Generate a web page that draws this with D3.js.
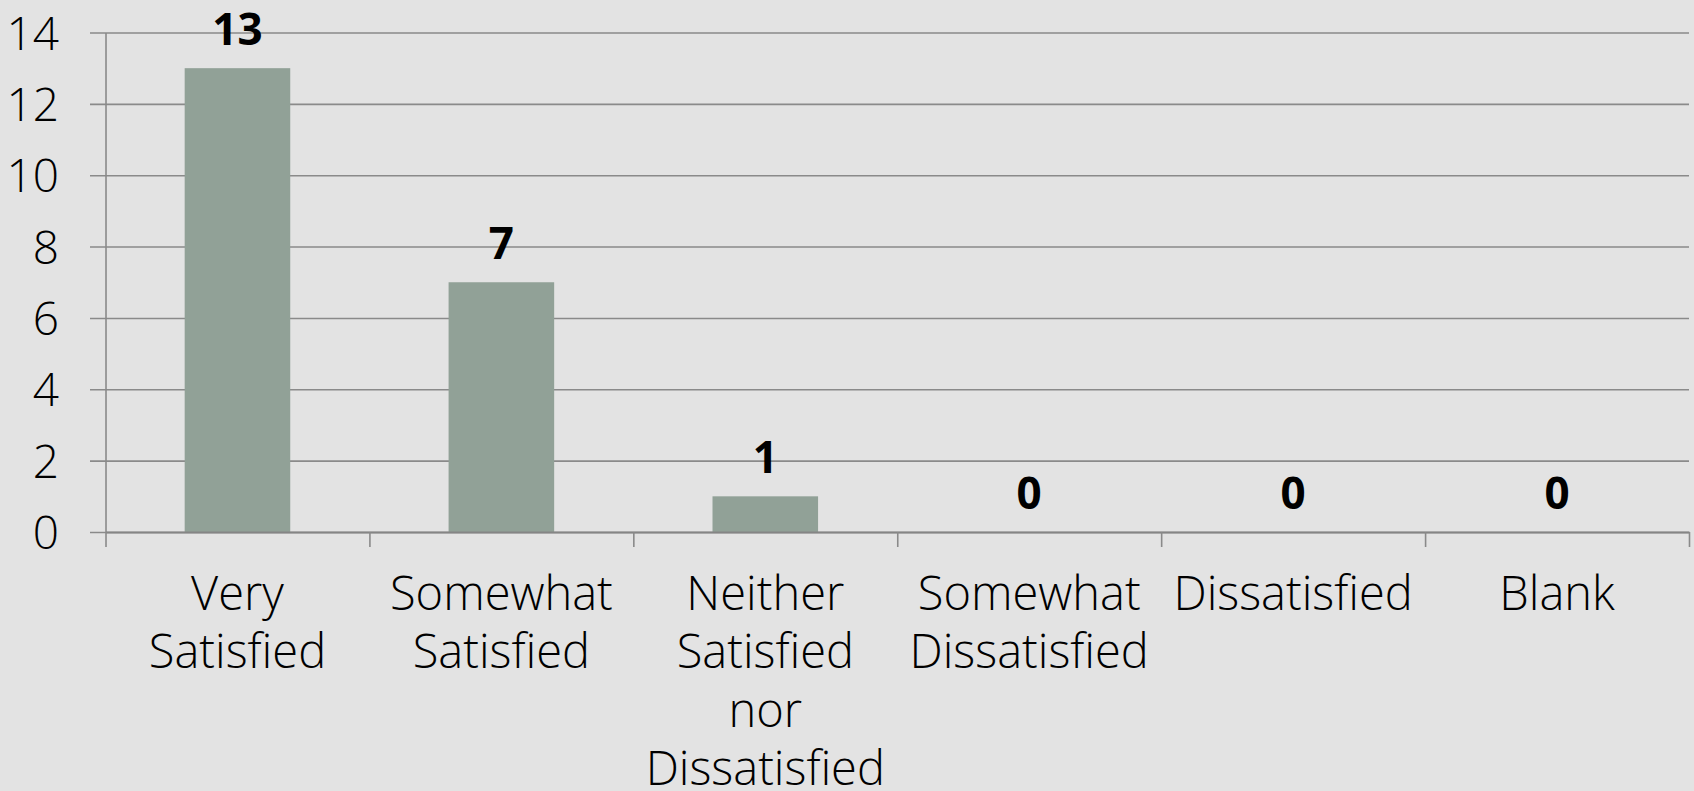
<!DOCTYPE html>
<html>
<head>
<meta charset="utf-8">
<script src="https://cdn.jsdelivr.net/npm/d3@7"></script>
<style>
  html, body { margin: 0; padding: 0; background: #e3e3e3; }
  svg { display: block; }
  text { font-family: "Open Sans", "Noto Sans", sans-serif; fill: #000; }
</style>
</head>
<body>
<svg id="chart" width="1694" height="791"></svg>
<script>
const categories = ["Very Satisfied", "Somewhat Satisfied", "Neither Satisfied nor Dissatisfied", "Somewhat Dissatisfied", "Dissatisfied", "Blank"];
const categoryLines = [["Very", "Satisfied"], ["Somewhat", "Satisfied"], ["Neither", "Satisfied", "nor", "Dissatisfied"], ["Somewhat", "Dissatisfied"], ["Dissatisfied"], ["Blank"]];
const values = [13, 7, 1, 0, 0, 0];
const yTicks = [0, 2, 4, 6, 8, 10, 12, 14];

const svg = d3.select("#chart");
const mLeft = 105.5, mRight = 1689, mTop = 32.5, mBottom = 532;

// background
svg.append("rect").attr("width", 1694).attr("height", 791).attr("fill", "#e3e3e3");

const x = d3.scaleBand().domain(categories).range([mLeft, mRight]).padding(0);
const xb = d3.scaleLinear().domain([0, categories.length]).range([mLeft, mRight]);
const y = d3.scaleLinear().domain([0, 14]).range([mBottom, mTop]);

// gridlines + y tick labels
const gridG = svg.append("g").attr("transform", `translate(90,0)`)
  .call(d3.axisLeft(y).tickValues(yTicks).tickSize(-(mRight - 90)).tickPadding(31).tickFormat(d3.format("d")));
gridG.select(".domain").remove();
gridG.selectAll(".tick line").attr("stroke", "#8a8a8a").attr("stroke-width", 1.6);
gridG.selectAll(".tick text").style("font-size", "46px").style("font-weight", "300").attr("fill", "#000").attr("dy", "0.36em")
  .style("font-family", '"Open Sans", sans-serif');

// y axis line
const yAxisG = svg.append("g").attr("transform", `translate(${mLeft},0)`)
  .call(d3.axisLeft(y).tickValues([]).tickSizeOuter(0));
yAxisG.select(".domain").attr("stroke", "#8a8a8a").attr("stroke-width", 1.6);

// bars
const barW = x.bandwidth() * 0.4;
svg.append("g").selectAll("rect").data(values).join("rect")
  .attr("x", (d, i) => x(categories[i]) + (x.bandwidth() - barW) / 2)
  .attr("width", barW)
  .attr("y", d => y(d))
  .attr("height", d => y(0) - y(d))
  .attr("fill", "#91a197");

// x axis (tick marks at band boundaries)
const xAxisG = svg.append("g").attr("transform", `translate(0,${mBottom})`)
  .call(d3.axisBottom(xb).tickValues(d3.range(categories.length + 1)).tickSize(15).tickSizeOuter(0).tickFormat(""));
xAxisG.select(".domain").attr("stroke", "#858585").attr("stroke-width", 2);
xAxisG.selectAll(".tick line").attr("stroke", "#8a8a8a").attr("stroke-width", 1.6);

// data labels
svg.append("g").selectAll("text").data(values).join("text")
  .attr("x", (d, i) => x(categories[i]) + x.bandwidth() / 2)
  .attr("y", d => y(d) - 23)
  .attr("text-anchor", "middle")
  .style("font-size", "44px")
  .style("font-weight", "700")
  .text(d => d);

// category labels
const catG = svg.append("g");
categoryLines.forEach((lines, i) => {
  const cx = x(categories[i]) + x.bandwidth() / 2;
  const t = catG.append("text")
    .attr("text-anchor", "middle")
    .style("font-size", "47px")
    .style("font-weight", "300")
    .attr("x", cx)
    .attr("y", 610);
  lines.forEach((ln, j) => {
    t.append("tspan").attr("x", cx).attr("y", 610 + j * 58.3).text(ln);
  });
});
</script>
</body>
</html>
